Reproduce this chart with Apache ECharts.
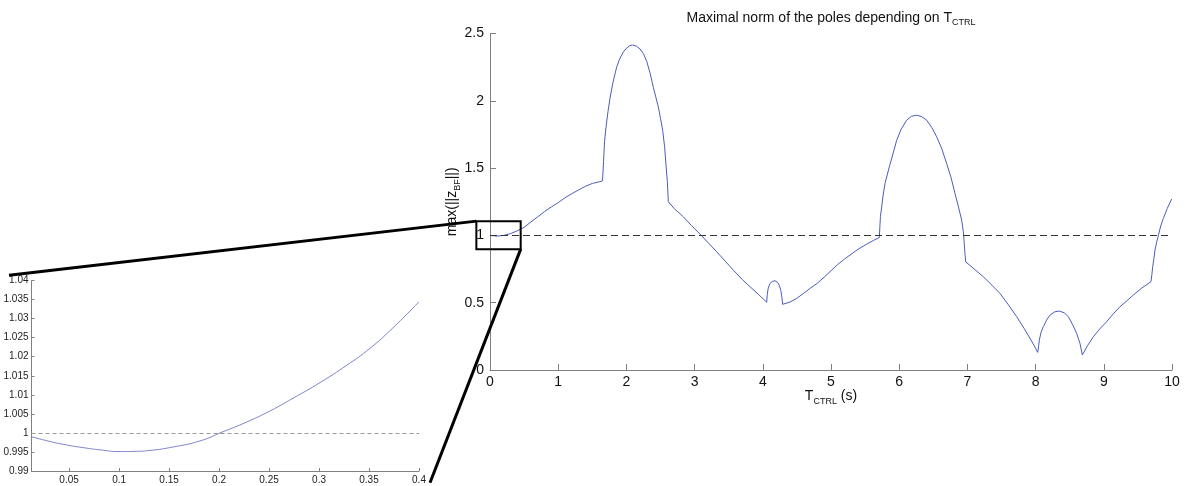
<!DOCTYPE html>
<html>
<head>
<meta charset="utf-8">
<script src="https://cdn.jsdelivr.net/npm/echarts/dist/echarts.min.js"></script>
<style>
  html, body { margin: 0; padding: 0; background: #fff; }
  #chart { width: 1185px; height: 486px; }
</style>
</head>
<body>
<div id="chart"></div>
<script>
// main curve: max pole norm vs T_CTRL (s)
const ctrlT = [
  0.012, 0.1, 0.2, 0.3, 0.4, 0.5, 0.6, 0.7, 0.8, 0.9, 1.0, 1.1, 1.2, 1.3, 1.4, 1.5, 1.6, 1.65,
  1.665, 1.68, 1.7, 1.73, 1.76, 1.8, 1.857, 1.9, 1.955, 2.0, 2.05, 2.09, 2.15, 2.2, 2.25, 2.3,
  2.35, 2.395, 2.43, 2.468, 2.5, 2.532, 2.56, 2.58, 2.6, 2.61, 2.615,
  2.7, 2.835, 2.95, 3.079, 3.2, 3.324, 3.45, 3.568, 3.7, 3.812, 3.94, 4.057,
  4.065, 4.08, 4.106, 4.14, 4.179, 4.215, 4.242, 4.265, 4.28, 4.291,
  4.4, 4.497, 4.6, 4.692, 4.8, 4.9, 4.985, 5.1, 5.2, 5.279, 5.4, 5.523, 5.62, 5.709,
  5.716, 5.725, 5.743, 5.765, 5.792, 5.855, 5.9, 5.963, 6.03, 6.109, 6.18, 6.256, 6.33, 6.403,
  6.48, 6.55, 6.62, 6.696, 6.76, 6.818, 6.87, 6.916, 6.94, 6.955, 6.965, 6.975,
  7.1, 7.234, 7.36, 7.478, 7.6, 7.723, 7.83, 7.918, 7.98, 8.031,
  8.045, 8.055, 8.08, 8.114, 8.16, 8.211, 8.28, 8.348, 8.42, 8.48, 8.54, 8.602, 8.651, 8.685,
  8.76, 8.847, 8.94, 9.042, 9.14, 9.238, 9.34, 9.433, 9.56, 9.692,
  9.705, 9.717, 9.735, 9.751, 9.775, 9.8, 9.835, 9.873, 9.93, 9.995
];
const maxNorm = [
  0.999, 0.995, 0.9995, 1.013, 1.034, 1.06, 1.1, 1.138, 1.177, 1.212, 1.243, 1.28, 1.31, 1.338, 1.365, 1.386, 1.398, 1.405,
  1.55, 1.7, 1.8, 1.92, 2.02, 2.13, 2.25, 2.31, 2.363, 2.39, 2.41, 2.415, 2.405, 2.385, 2.35, 2.29,
  2.2, 2.1, 2.03, 1.955, 1.87, 1.78, 1.66, 1.53, 1.4, 1.3, 1.25,
  1.2, 1.138, 1.075, 1.01, 0.945, 0.878, 0.808, 0.742, 0.672, 0.619, 0.56, 0.503,
  0.56, 0.61, 0.643, 0.658, 0.663, 0.652, 0.63, 0.59, 0.54, 0.488,
  0.505, 0.532, 0.57, 0.606, 0.645, 0.69, 0.73, 0.785, 0.825, 0.854, 0.898, 0.935, 0.962, 0.985,
  1.06, 1.14, 1.212, 1.3, 1.386, 1.509, 1.59, 1.707, 1.79, 1.856, 1.885, 1.893, 1.883, 1.856,
  1.8, 1.732, 1.65, 1.534, 1.43, 1.312, 1.21, 1.114, 1.03, 0.93, 0.86, 0.804,
  0.75, 0.693, 0.63, 0.569, 0.485, 0.396, 0.31, 0.235, 0.18, 0.131,
  0.18, 0.223, 0.28, 0.322, 0.37, 0.408, 0.432, 0.438, 0.425, 0.396, 0.34, 0.272, 0.198, 0.111,
  0.18, 0.247, 0.305, 0.359, 0.418, 0.47, 0.515, 0.557, 0.61, 0.656,
  0.71, 0.767, 0.83, 0.891, 0.95, 1.0, 1.07, 1.126, 1.2, 1.27
];

// zoomed inset, 0..0.4 s
const zoomT = [0.0124, 0.03, 0.047, 0.065, 0.081, 0.1, 0.115, 0.131, 0.154, 0.181, 0.203,
  0.228, 0.252, 0.274, 0.301, 0.328, 0.351, 0.374, 0.4];
const zoomNorm = [0.999, 0.9978, 0.99685, 0.9961, 0.99555, 0.9951, 0.99515, 0.9954, 0.9963, 0.9979, 1.0002,
  1.0029, 1.0059, 1.0091, 1.0132, 1.0178, 1.0222, 1.0276, 1.0344];

const threshold = 1;
const zoomTicksX = [0.05, 0.1, 0.15, 0.2, 0.25, 0.3, 0.35, 0.4];

// zoom box on main axes and leader line ends on inset axes (data units)
const boxT = [-0.2, 0.45];
const boxNorm = [0.898, 1.106];
const leaderA = [-0.0101, 1.0414];
const leaderB = [0.411, 0.9869];

const font = "'Liberation Sans', Arial, Helvetica, sans-serif";
const sub = { fontSize: 9, fontFamily: font, color: '#111', verticalAlign: 'bottom', lineHeight: 10 };

const chart = echarts.init(document.getElementById('chart'));

const zip = (a, b) => a.map((v, i) => [v, b[i]]);

chart.setOption({
  animation: false,
  title: {
    text: 'Maximal norm of the poles depending on T{s|CTRL}',
    left: 826,
    top: 4,
    textAlign: 'center',
    textStyle: {
      fontFamily: font, fontSize: 14, fontWeight: 'normal', color: '#111', lineHeight: 18,
      rich: { s: sub }
    }
  },
  grid: [
    { left: 490, top: 33.5, width: 682, height: 336.5 },
    { left: 31.5, top: 280.5, width: 387.5, height: 190.5 }
  ],
  xAxis: [
    {
      gridIndex: 0, type: 'value', min: 0, max: 10, interval: 1,
      name: 'T{s|CTRL} (s)', nameLocation: 'middle', nameGap: 16, nameMoveOverlap: false,
      nameTextStyle: { fontFamily: font, fontSize: 14, color: '#111', lineHeight: 20, rich: { s: sub } },
      axisLine: { lineStyle: { color: '#808080', width: 1 } },
      axisTick: { inside: true, length: 6, lineStyle: { color: '#808080' } },
      axisLabel: { fontFamily: font, fontSize: 14, color: '#111', margin: 5 },
      splitLine: { show: false }
    },
    {
      gridIndex: 1, type: 'value', min: zoomT[0], max: 0.4,
      axisLine: { lineStyle: { color: '#808080', width: 1 } },
      axisTick: { inside: true, length: 3, customValues: zoomTicksX, lineStyle: { color: '#808080' } },
      axisLabel: { fontFamily: font, fontSize: 10, color: '#222', margin: 4, customValues: zoomTicksX },
      splitLine: { show: false }
    }
  ],
  yAxis: [
    {
      gridIndex: 0, type: 'value', min: 0, max: 2.5, interval: 0.5,
      name: 'max(||z{s|BF}||)', nameLocation: 'middle', nameGap: 28, nameRotate: 90, nameMoveOverlap: false,
      nameTextStyle: { fontFamily: font, fontSize: 14, color: '#111', lineHeight: 20, rich: { s: sub } },
      axisLine: { show: true, lineStyle: { color: '#808080', width: 1 } },
      axisTick: { show: true, inside: true, length: 6, lineStyle: { color: '#808080' } },
      axisLabel: { fontFamily: font, fontSize: 14, color: '#111', margin: 6 },
      splitLine: { show: false }
    },
    {
      gridIndex: 1, type: 'value', min: 0.99, max: 1.04, interval: 0.005,
      axisLine: { show: true, lineStyle: { color: '#808080', width: 1 } },
      axisTick: { show: true, inside: true, length: 3, lineStyle: { color: '#808080' } },
      axisLabel: { fontFamily: font, fontSize: 10, color: '#222', margin: 3 },
      splitLine: { show: false }
    }
  ],
  series: [
    {
      type: 'line', xAxisIndex: 0, yAxisIndex: 0,
      data: zip(ctrlT, maxNorm),
      showSymbol: false, silent: true,
      lineStyle: { color: '#4a5cb8', width: 1 },
      markLine: {
        silent: true, symbol: 'none', label: { show: false },
        lineStyle: { color: '#333', width: 1, type: [7, 4] },
        data: [{ yAxis: threshold }]
      }
    },
    {
      type: 'line', xAxisIndex: 1, yAxisIndex: 1,
      data: zip(zoomT, zoomNorm),
      showSymbol: false, silent: true, smooth: 0.5,
      lineStyle: { color: '#7d84c9', width: 1 },
      markLine: {
        silent: true, symbol: 'none', label: { show: false },
        lineStyle: { color: '#999', width: 1, type: [4, 3] },
        data: [{ yAxis: threshold }]
      }
    }
  ]
});

// zoom box and leader lines, placed through the axes
const mainPx = (p) => chart.convertToPixel({ xAxisIndex: 0, yAxisIndex: 0 }, p);
const zoomPx = (p) => chart.convertToPixel({ xAxisIndex: 1, yAxisIndex: 1 }, p);
const tl = mainPx([boxT[0], boxNorm[1]]);
const br = mainPx([boxT[1], boxNorm[0]]);
const a = zoomPx(leaderA);
const b = zoomPx(leaderB);

chart.setOption({
  graphic: [
    {
      type: 'rect', z: 100,
      shape: { x: tl[0], y: tl[1], width: br[0] - tl[0], height: br[1] - tl[1] },
      style: { fill: 'none', stroke: '#000', lineWidth: 2 }
    },
    {
      type: 'line', z: 100,
      shape: { x1: a[0], y1: a[1], x2: tl[0], y2: tl[1] },
      style: { stroke: '#000', lineWidth: 3 }
    },
    {
      type: 'line', z: 100,
      shape: { x1: br[0], y1: br[1], x2: b[0], y2: b[1] },
      style: { stroke: '#000', lineWidth: 3 }
    }
  ]
});
</script>
</body>
</html>
